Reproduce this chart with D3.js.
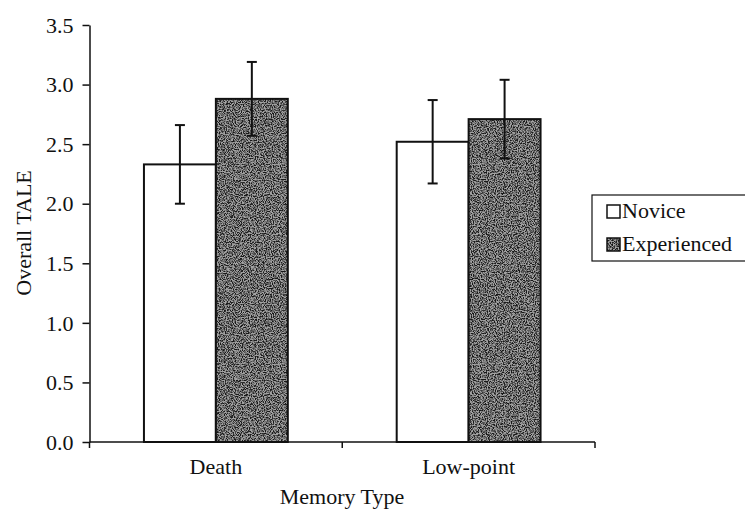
<!DOCTYPE html>
<html><head><meta charset="utf-8">
<script src="https://cdn.jsdelivr.net/npm/d3@7"></script>
<style>body{margin:0;background:#fff}svg{display:block}</style>
</head><body>
<script>
const categories = ["Death", "Low-point"];
const seriesNames = ["Novice", "Experienced"];
const novice = [2.33, 2.52];
const experienced = [2.88, 2.71];
const noviceErr = [0.33, 0.35];
const experiencedErr = [0.31, 0.33];
const yTicks = [0, 0.5, 1.0, 1.5, 2.0, 2.5, 3.0, 3.5];

const W = 745, H = 510;
const svg = d3.select("body").append("svg").attr("width", W).attr("height", H);
const font = "'Liberation Serif','Times New Roman',serif";
const fs = 22;

const defs = svg.append("defs");
const f = defs.append("filter").attr("id","grain").attr("x",0).attr("y",0).attr("width","100%").attr("height","100%");
f.append("feTurbulence").attr("type","fractalNoise").attr("baseFrequency",0.87).attr("numOctaves",2).attr("seed",3).attr("result","n");
f.append("feColorMatrix").attr("in","n").attr("type","matrix")
 .attr("values","0 0 0 0 0  0 0 0 0 0  0 0 0 0 0  0 0 0 -3.6 2.2").attr("result","a");
f.append("feComposite").attr("in","a").attr("in2","SourceGraphic").attr("operator","in");
const pat = defs.append("pattern").attr("id","tex").attr("patternUnits","userSpaceOnUse").attr("width",200).attr("height",200);
pat.append("rect").attr("width",200).attr("height",200).attr("fill","#a2a2a2");
pat.append("rect").attr("width",200).attr("height",200).attr("fill","#1a1a1a").attr("filter","url(#grain)").attr("opacity",0.85);

const x0 = d3.scaleBand().domain(categories).range([89.5, 595]).paddingInner(0).paddingOuter(0);
const x1 = d3.scaleBand().domain(seriesNames).range([0, x0.bandwidth()]).paddingInner(0).paddingOuter(0.757);
const y = d3.scaleLinear().domain([0, 3.5]).range([442, 25]);

const data = [];
categories.forEach((c,i)=>{
  data.push({cat:c, s:"Novice", v:novice[i], e:noviceErr[i]});
  data.push({cat:c, s:"Experienced", v:experienced[i], e:experiencedErr[i]});
});

// bars
svg.append("g").selectAll("rect").data(data).join("rect")
  .attr("x", d=>x0(d.cat)+x1(d.s))
  .attr("y", d=>y(d.v))
  .attr("width", x1.bandwidth())
  .attr("height", d=>y(0)-y(d.v))
  .attr("fill", d=>d.s==="Novice" ? "#fff" : "url(#tex)")
  .attr("stroke","#111").attr("stroke-width",2);

// error bars
const eg = svg.append("g").attr("stroke","#111").attr("stroke-width",2);
data.forEach(d=>{
  const cx = x0(d.cat)+x1(d.s)+x1.bandwidth()/2;
  eg.append("line").attr("x1",cx).attr("x2",cx).attr("y1",y(d.v+d.e)).attr("y2",y(d.v-d.e));
  eg.append("line").attr("x1",cx-5).attr("x2",cx+5).attr("y1",y(d.v+d.e)).attr("y2",y(d.v+d.e));
  eg.append("line").attr("x1",cx-5).attr("x2",cx+5).attr("y1",y(d.v-d.e)).attr("y2",y(d.v-d.e));
});

// y axis
const ya = svg.append("g").attr("transform","translate(89.5,0)")
  .call(d3.axisLeft(y).tickValues(yTicks).tickFormat(d3.format(".1f")).tickSize(7).tickSizeOuter(0));
ya.select(".domain").attr("stroke","#111").attr("stroke-width",1.5);
ya.selectAll(".tick line").attr("stroke","#111").attr("stroke-width",1.5);
ya.selectAll("text").attr("font-family",font).attr("font-size",fs).attr("fill","#111").attr("x",-16).attr("dy","0.33em");

// x axis
const xa = svg.append("g").attr("transform","translate(0,442)");
xa.append("line").attr("x1",89.5).attr("x2",595).attr("y1",0).attr("y2",0).attr("stroke","#111").attr("stroke-width",1.5);
const bounds = [x0.range()[0], x0(categories[1]), x0.range()[1]];
bounds.forEach(b=>xa.append("line").attr("x1",b).attr("x2",b).attr("y1",0).attr("y2",6).attr("stroke","#111").attr("stroke-width",1.5));
xa.selectAll("text.cat").data(categories).join("text").attr("class","cat")
  .attr("x", d=>x0(d)+x0.bandwidth()/2).attr("y",32)
  .attr("text-anchor","middle").attr("font-family",font).attr("font-size",fs).attr("fill","#111").text(d=>d);

// axis titles
svg.append("text").attr("x",342).attr("y",504).attr("text-anchor","middle")
  .attr("font-family",font).attr("font-size",fs).attr("fill","#111").text("Memory Type");
svg.append("text").attr("transform","translate(31,233) rotate(-90)").attr("text-anchor","middle")
  .attr("font-family",font).attr("font-size",fs).attr("fill","#111").text("Overall TALE");

// legend
const lg = svg.append("g");
lg.append("rect").attr("x",592).attr("y",195).attr("width",160).attr("height",66)
  .attr("fill","#fff").attr("stroke","#111").attr("stroke-width",1.2);
seriesNames.forEach((s,i)=>{
  const yy = 211 + i*33;
  lg.append("rect").attr("x",607).attr("y",yy-6).attr("width",13).attr("height",13)
    .attr("fill", s==="Novice" ? "#fff" : "url(#tex)").attr("stroke","#111").attr("stroke-width",1.5);
  lg.append("text").attr("x",622).attr("y",yy+7).attr("font-family",font).attr("font-size",fs).attr("fill","#111").text(s);
});
</script>
</body></html>
